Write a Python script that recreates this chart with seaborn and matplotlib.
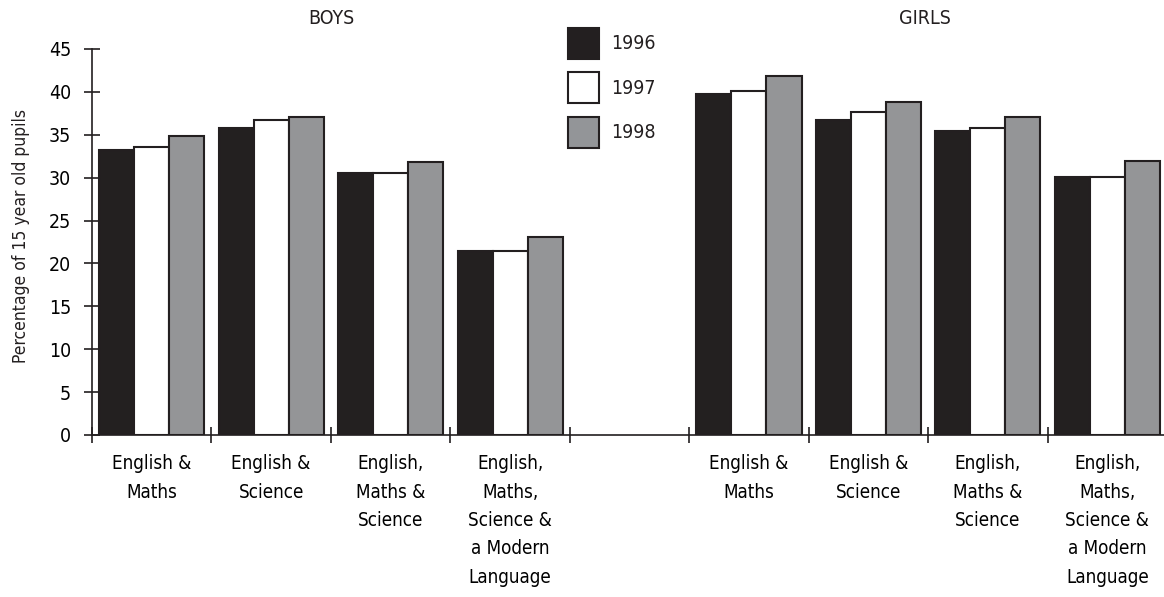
import pandas as pd
import numpy as np
import matplotlib
matplotlib.use('Agg')
import matplotlib.pyplot as plt
from matplotlib.patches import Patch
import seaborn as sns

# ---- data ----
years = ['1996', '1997', '1998']
subjects = ['English &\nMaths', 'English &\nScience', 'English,\nMaths &\nScience',
            'English,\nMaths,\nScience &\na Modern\nLanguage']
boys_1996 = [33.2, 35.8, 30.6, 21.4]
boys_1997 = [33.6, 36.7, 30.5, 21.4]
boys_1998 = [34.9, 37.1, 31.8, 23.1]
girls_1996 = [39.8, 36.7, 35.4, 30.1]
girls_1997 = [40.1, 37.6, 35.8, 30.1]
girls_1998 = [41.9, 38.8, 37.1, 31.9]
yticks = list(range(0, 50, 5))

colours = {'1996': '#231f20', '1997': '#ffffff', '1998': '#939598'}
EDGE = '#231f20'

# ---- build long table ----
rows = []
for sex, series in [('B', [boys_1996, boys_1997, boys_1998]),
                    ('G', [girls_1996, girls_1997, girls_1998])]:
    for yr, vals in zip(years, series):
        for i, v in enumerate(vals):
            rows.append({'cat': f'{sex}{i}', 'year': yr, 'pct': v})
df = pd.DataFrame(rows)
order = ['B0', 'B1', 'B2', 'B3', 'gap', 'G0', 'G1', 'G2', 'G3']

plt.rcParams['font.family'] = ['DejaVu Sans']
plt.rcParams['font.stretch'] = 'condensed'
plt.rcParams['text.color'] = '#231f20'
plt.rcParams['axes.labelcolor'] = '#231f20'

fig = plt.figure(figsize=(11.64, 5.97), dpi=100)
ax = fig.add_axes([92 / 1164, 1 - 435 / 597, 1075 / 1164, 386 / 597])

sns.barplot(data=df, x='cat', y='pct', hue='year', order=order,
            hue_order=years, palette=colours, width=0.88,
            edgecolor=EDGE, linewidth=1.5, legend=False, ax=ax)

ax.set_xlim(-0.5, 8.5)
ax.set_ylim(0, 45)
ax.set_yticks(yticks)
ax.set_ylabel('Percentage of 15 year old pupils', fontsize=12.5)
ax.yaxis.set_label_coords(-0.0575, 0.515)
ax.set_xlabel('')

# boundaries as major ticks, labels in the middle as minor ticks
ax.set_xticks(np.arange(-0.5, 8.0, 1.0))
ax.set_xticklabels([])
centres = [0, 1, 2, 3, 5, 6, 7, 8]
ax.set_xticks(centres, minor=True)
ax.set_xticklabels(subjects + subjects, minor=True, fontsize=13.5,
                   va='top', ha='center', linespacing=1.62)
ax.tick_params(axis='x', which='minor', length=0, pad=14)
ax.tick_params(axis='x', which='major', direction='inout', length=11,
               width=1.2, color=EDGE)
ax.tick_params(axis='y', direction='inout', length=11, width=1.2,
               color=EDGE, labelsize=14, pad=9.5)

for s in ['top', 'right']:
    ax.spines[s].set_visible(False)
ax.spines['left'].set_bounds(0, 45)
for s in ['left', 'bottom']:
    ax.spines[s].set_color(EDGE)
    ax.spines[s].set_linewidth(1.2)

fig.text(331 / 1164, 1 - 18 / 597, 'BOYS', ha='center', va='center', fontsize=14)
fig.text(925 / 1164, 1 - 18 / 597, 'GIRLS', ha='center', va='center', fontsize=14)

handles = [Patch(facecolor=colours[y], edgecolor=EDGE, linewidth=1.5, label=y)
           for y in years]
fig.legend(handles=handles, loc='upper left',
           bbox_to_anchor=(554 / 1164, 1 - 14 / 597), frameon=False,
           fontsize=14, handlelength=1.6, handleheight=2.07,
           labelspacing=0.7, handletextpad=0.62, borderaxespad=0.3)

plt.savefig('out.png', dpi=100)
plt.close()
